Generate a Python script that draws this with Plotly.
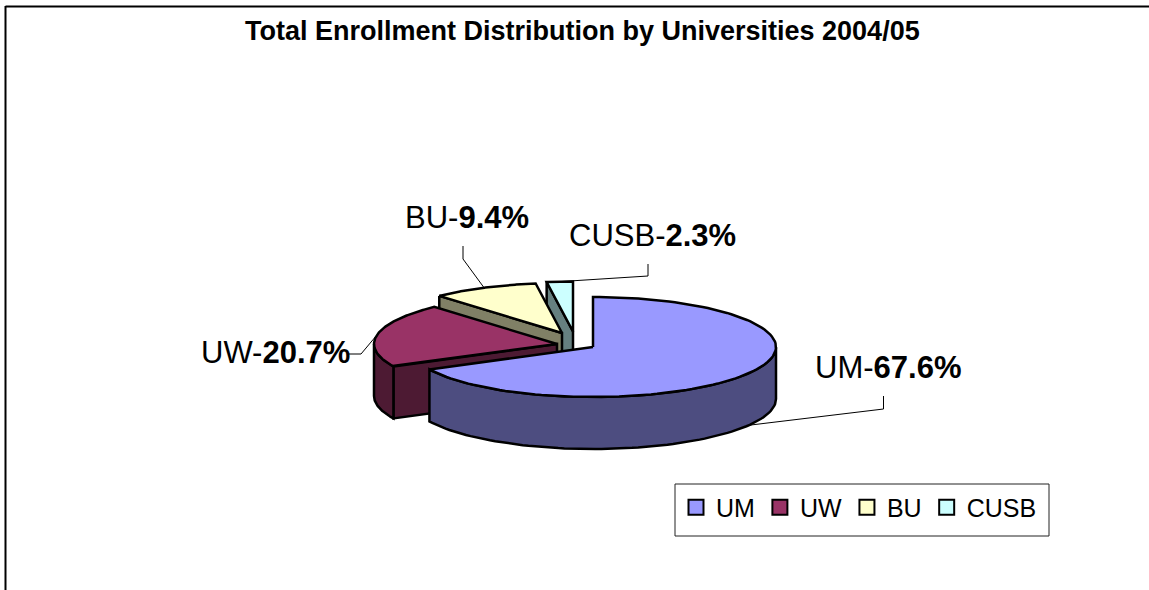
import numpy as np
import plotly.graph_objects as go

TITLE = "Total Enrollment Distribution by Universities 2004/05"
names = ["UM", "UW", "BU", "CUSB"]
shares = [67.6, 20.7, 9.4, 2.3]
label_values = ["67.6%", "20.7%", "9.4%", "2.3%"]

top_colors = ["#9999FF", "#993366", "#FFFFCC", "#CCFFFF"]
side_colors = ["#4D4D80", "#4D1A33", "#808066", "#668080"]
centers = [(593, 347), (557, 344), (562, 333), (573, 331.5)]
RX, RY, DEPTH = 183, 50, 52
elbows = [[(883.5, 409), (883.5, 396)], [(361, 354), (349, 354)], [(463, 259), (463, 246)], [(648, 276), (648, 264)]]
label_pos = [(813, 367), (199, 352), (403, 217), (567, 235)]

fracs = np.array(shares) / sum(shares)
ends = np.cumsum(fracs) * 2 * np.pi
starts = ends - fracs * 2 * np.pi


def ell(c, t, dz=0.0):
    return c[0] + RX * np.sin(t), c[1] - RY * np.cos(t) + dz


fig = go.Figure()


def poly(xs, ys, color):
    fig.add_trace(go.Scatter(x=list(xs), y=list(ys), mode="lines", fill="toself", fillcolor=color,
                             line=dict(color="black", width=2.5), hoverinfo="skip", showlegend=False))


def leader(points):
    fig.add_trace(go.Scatter(x=[p[0] for p in points], y=[p[1] for p in points], mode="lines",
                             line=dict(color="black", width=1), hoverinfo="skip", showlegend=False))


# leader lines sit behind the slices
for i in range(4):
    mid = (starts[i] + ends[i]) / 2
    on_front = np.cos(mid) < 0 and i == 0
    leader([ell(centers[i], mid, DEPTH if on_front else 0)] + elbows[i])

# back-to-front painting
for i in [3, 2, 1, 0]:
    c = centers[i]
    s, e = starts[i], ends[i]
    # radial wall on the start edge, when it faces the viewer
    if i > 0:
        sx, sy = ell(c, s)
        poly([sx, c[0], c[0], sx, sx], [sy, c[1], c[1] + DEPTH, sy + DEPTH, sy], side_colors[i])
    # outer wall on the front half of the rim
    lo, hi = max(s, np.pi / 2), min(e, 3 * np.pi / 2)
    if hi > lo:
        t = np.linspace(lo, hi, 80)
        x, y = ell(c, t)
        xb, yb = ell(c, t[::-1], DEPTH)
        poly(np.r_[x, xb, x[0]], np.r_[y, yb, y[0]], side_colors[i])
    # top face
    t = np.linspace(s, e, 120)
    x, y = ell(c, t)
    poly(np.r_[c[0], x, c[0]], np.r_[c[1], y, c[1]], top_colors[i])

# legend entries
for n, col in zip(names, top_colors):
    fig.add_trace(go.Scatter(x=[None], y=[None], mode="markers", name=n,
                             marker=dict(symbol="square", size=15, color=col, line=dict(color="black", width=2))))

ann = [dict(x=582, y=31, xref="x", yref="y", text=f"<b>{TITLE}</b>", showarrow=False,
            font=dict(family="Liberation Sans", size=27, color="black"))]
for n, v, p in zip(names, label_values, label_pos):
    ann.append(dict(x=p[0], y=p[1], xref="x", yref="y", xanchor="left", yanchor="middle", showarrow=False,
                    text=f"{n}-<b>{v}</b>", font=dict(family="Liberation Sans", size=31, color="black")))

shapes = [
    dict(type="line", x0=5.5, x1=5.5, y0=6, y1=590, line=dict(color="black", width=2)),
    dict(type="line", x0=5.5, x1=1149, y0=6.5, y1=6.5, line=dict(color="black", width=2)),
    dict(type="rect", x0=675, x1=1049, y0=484, y1=536, line=dict(color="#222222", width=1)),
]

fig.update_layout(
    width=1149, height=590, margin=dict(l=0, r=0, t=0, b=0),
    paper_bgcolor="white", plot_bgcolor="white",
    xaxis=dict(range=[0, 1149], visible=False, fixedrange=True),
    yaxis=dict(range=[590, 0], visible=False, fixedrange=True),
    annotations=ann, shapes=shapes,
    legend=dict(orientation="h", x=676 / 1149, y=1 - 484.5 / 590, xanchor="left", yanchor="top",
                bgcolor="rgba(0,0,0,0)", font=dict(family="Liberation Sans", size=25, color="black"),
                itemsizing="trace"),
)
fig.write_html("out.html", post_script="document.body.style.margin='0';", config=dict(displayModeBar=False))
